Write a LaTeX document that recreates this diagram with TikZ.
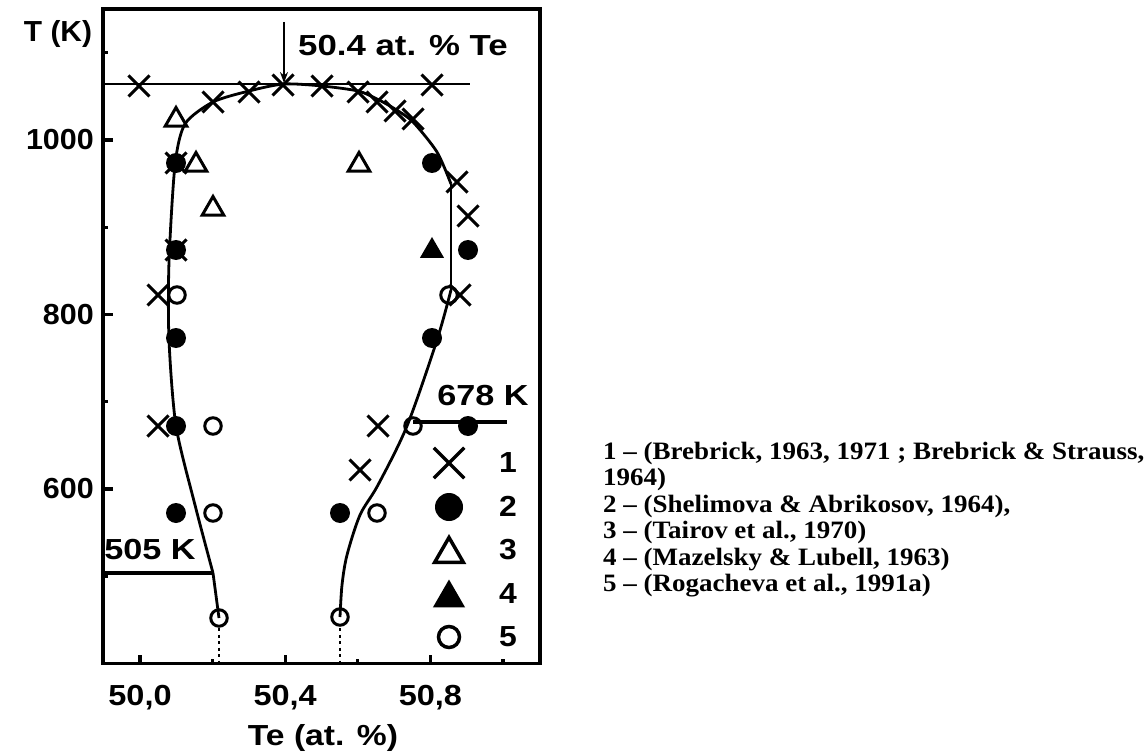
\documentclass[tikz,border=0pt]{standalone}
\usepackage{fontspec}
\setmainfont{Liberation Serif}
\newfontfamily\lsans{Liberation Sans}
\usetikzlibrary{shapes.misc,shapes.geometric,arrows.meta}
\tikzset{
 ax/.style={line width=3.2pt},
 curve/.style={line width=2.8pt, line join=round},
 lab/.style={font=\lsans\bfseries\fontsize{29}{31}\selectfont, inner sep=0pt},
 ref/.style={font=\bfseries\fontsize{25}{27}\selectfont, inner sep=0pt, anchor=base west},
 xm/.style={cross out, draw, line width=3pt, minimum size=18pt, inner sep=0pt},
 fc/.style={circle, fill, minimum size=20pt, inner sep=0pt},
 oc/.style={circle, draw, line width=3pt, minimum size=16.5pt, inner sep=0pt},
 ot/.style={regular polygon, regular polygon sides=3, draw, line width=3pt, minimum size=25pt, inner sep=0pt},
 ft/.style={regular polygon, regular polygon sides=3, fill, minimum size=28pt, inner sep=0pt},
}
\begin{document}
\begin{tikzpicture}[x=1pt,y=-1pt]
\useasboundingbox (0,0) rectangle (1146,754);
% frame
\draw[ax] (103,9) rectangle (540,663.5);
% ticks bottom
\foreach \x in {140,285.2,430.4} \draw[ax] (\x,663.5) -- (\x,654.5);
\foreach \x in {212.6,357.8,503} \draw[ax] (\x,663.5) -- (\x,659);
% ticks left
\foreach \y in {140,314.5,489} \draw[ax] (103,\y) -- (113,\y);
\foreach \y in {52.7,227.3,401.8,576.3} \draw[ax] (103,\y) -- (108,\y);
% tick labels
\node[lab, anchor=east] (t1000) at (94,140) {\scalebox{1.05}[1]{1000}};
\node[lab, anchor=east] (t800) at (94,314.5) {\scalebox{1.05}[1]{800}};
\node[lab, anchor=east] (t600) at (94,489) {\scalebox{1.05}[1]{600}};
\node[lab] (x500) at (140,698) {\scalebox{1.12}[1]{50,0}};
\node[lab] (x504) at (285.2,698) {\scalebox{1.12}[1]{50,4}};
\node[lab] (x508) at (430.4,698) {\scalebox{1.12}[1]{50,8}};
\node[lab] (xlab) at (323,738) {\scalebox{1.16}[1]{Te (at. \%)}};
\node[lab] (ylab) at (58,34) {\scalebox{1.03}[1]{T (K)}};
% horizontal lines
\draw[curve] (103,84) -- (470,84);
\draw[ax] (103,573) -- (213,573);
\draw[ax] (413,422) -- (507,422);
\node[lab] (l505) at (150,550) {\scalebox{1.18}[1]{505 K}};
\node[lab] (l678) at (483,396) {\scalebox{1.18}[1]{678 K}};
% arrow and label
\coordinate (arrS) at (284,22);
\coordinate (arrE) at (284,83);
\draw[line width=1.6pt, -{Stealth[length=11pt,width=8pt]}] (arrS) -- (arrE);
\node[lab, anchor=west] (lmax) at (298,46) {\scalebox{1.2}[1]{50.4 at. \% Te}};
% curves
\draw[curve] (219,618) -- (213,573);
\draw[curve] plot[smooth, tension=0.45] coordinates {(213,573) (195,505) (176,426) (169,340) (169,262) (175,165) (185,124) (213,102) (249,91) (284,84) (322,86) (358,91) (377,99) (395,109) (413,122) (437,152) (451,184)};
\draw[curve] (451,184) -- (451,290);
\draw[curve] plot[smooth, tension=0.5] coordinates {(451,290) (437,340) (407,426) (378,485) (360,515) (347,555) (342,585) (340,617)};
% dotted
\draw[line width=2.2pt, dash pattern=on 3pt off 3.5pt] (219,628) -- (219,663);
\draw[line width=2.2pt, dash pattern=on 3pt off 3.5pt] (340,628) -- (340,663);
% crosses (1)
\foreach \p [count=\i] in {(139,86),(213,102),(249,92),(283,85),(322,86),(358,92),(377,102),(395,111),(413,119),(432,85),(457,182),(468,216),(176,163),(176,250),(158,295),(460,295),(158,426),(378,426),(360,470)}
  \node[xm] (c\i) at \p {};
% filled circles (2)
\foreach \p [count=\i] in {(176,163),(176,250),(176,338),(176,426),(176,513),(432,163),(468,250),(432,338),(468,426),(340,513)}
  \node[fc] (f\i) at \p {};
% open triangles (3)
\foreach \p [count=\i] in {(176,120),(196,165),(213,209),(359,165)}
  \node[ot] (o\i) at \p {};
% filled triangles (4)
\node[ft] (ft1) at (432,251) {};
% open circles (5)
\foreach \p [count=\i] in {(177,295),(213,426),(213,513),(219,618),(340,617),(449,295),(413,426),(377,513)}
  \node[oc] (oc\i) at \p {};
% legend
\node[xm, minimum size=27pt, line width=3.5pt] (lg1) at (449,463) {};
\node[fc, minimum size=28pt] (lg2) at (449,507) {};
\node[ot, minimum size=33pt, line width=3.5pt] (lg3) at (449,554) {};
\node[ft, minimum size=37pt] (lg4) at (449,598) {};
\node[oc, minimum size=21pt, line width=3.5pt] (lg5) at (449,637) {};
\foreach \t [count=\i] in {1,...,5}
  \node[lab] (ln\i) at (508,{463+43.5*(\i-1)}) {\scalebox{1.1}[1]{\t}};
% references
\node[ref] (r1) at (603,459) {\scalebox{1.08}[1]{1 -- (Brebrick, 1963, 1971 ; Brebrick \& Strauss,}};
\node[ref] (r1b) at (603,485.5) {\scalebox{1.08}[1]{1964)}};
\node[ref] (r2) at (603,512) {\scalebox{1.08}[1]{2 -- (Shelimova \& Abrikosov, 1964),}};
\node[ref] (r3) at (603,538.5) {\scalebox{1.08}[1]{3 -- (Tairov et al., 1970)}};
\node[ref] (r4) at (603,565) {\scalebox{1.08}[1]{4 -- (Mazelsky \& Lubell, 1963)}};
\node[ref] (r5) at (603,591.5) {\scalebox{1.08}[1]{5 -- (Rogacheva et al., 1991a)}};
\end{tikzpicture}
\end{document}
